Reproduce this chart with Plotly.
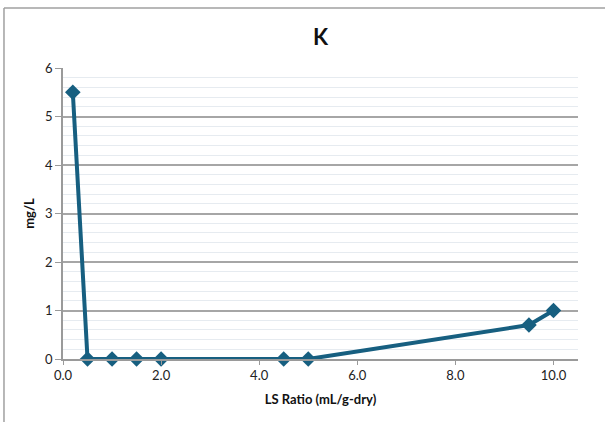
import plotly.graph_objects as go

ls_ratio = [0.2, 0.5, 1.0, 1.5, 2.0, 4.5, 5.0, 9.5, 10.0]
k_mgL = [5.5, 0.0, 0.0, 0.0, 0.0, 0.0, 0.0, 0.7, 1.0]
x_ticks = [0, 2, 4, 6, 8, 10]
x_tick_labels = ["0.0", "2.0", "4.0", "6.0", "8.0", "10.0"]
y_ticks = [0, 1, 2, 3, 4, 5, 6]

color = "#175F80"
font = "Lato, 'Open Sans', sans-serif"

fig = go.Figure()
fig.add_trace(go.Scatter(
    x=ls_ratio, y=k_mgL, mode="lines+markers",
    line=dict(color=color, width=4),
    marker=dict(symbol="diamond", size=12, color=color),
    showlegend=False, cliponaxis=False,
))

fig.update_layout(
    width=605, height=422,
    margin=dict(l=63, r=27, t=68, b=63, autoexpand=False),
    paper_bgcolor="white", plot_bgcolor="white",
    font=dict(family=font, size=13, color="#222"),
    title=dict(text="<b>K</b>", x=0.5, xanchor="center", y=0.912, yanchor="middle",
               xref="paper", font=dict(size=22, family=font, color="#111")),
    xaxis=dict(range=[0, 10.5], tickvals=x_ticks, ticktext=x_tick_labels,
               showgrid=False, zeroline=False,
               showline=True, linecolor="#9a9a9a", linewidth=1.5,
               ticks="outside", ticklen=4, tickcolor="#9a9a9a",
               title=dict(text="<b>LS Ratio (mL/g-dry)</b>", font=dict(size=13, family=font, color="#111"), standoff=13)),
    yaxis=dict(range=[0, 6], tickvals=y_ticks,
               showgrid=True, gridcolor="#a6a6a6", gridwidth=1.5,
               zeroline=False,
               showline=True, linecolor="#9a9a9a", linewidth=1.5,
               ticks="outside", ticklen=6, tickcolor="#9a9a9a",
               minor=dict(dtick=0.2, showgrid=True, gridcolor="#e6ebf0", gridwidth=1, ticks=""),
               title=dict(text="<b>mg/L</b>", font=dict(size=13, family=font, color="#111"), standoff=8)),
)

fig.add_shape(type="line", xref="paper", yref="paper", x0=-0.1146, x1=1.06, y0=1.206, y1=1.206,
              line=dict(color="#a0a0a0", width=1.5))
fig.add_shape(type="line", xref="paper", yref="paper", x0=-0.1146, x1=-0.1146, y0=1.206, y1=-0.25,
              line=dict(color="#a0a0a0", width=1.5))

fig.write_html("out.html", config={"displayModeBar": False},
               post_script="document.body.style.margin='0';")
